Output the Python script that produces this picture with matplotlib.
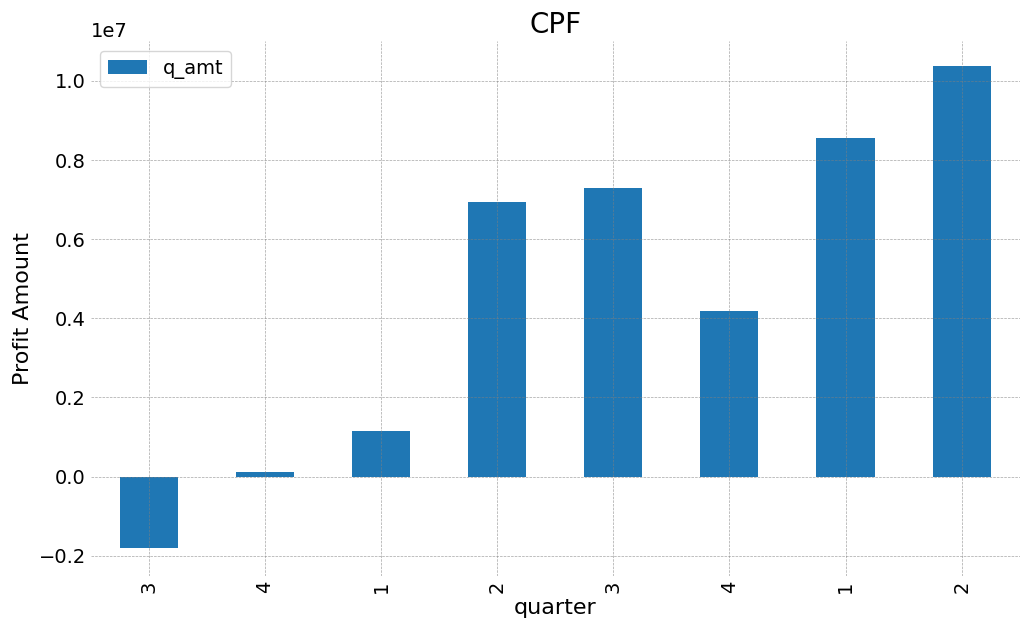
import matplotlib
matplotlib.use("Agg")
import matplotlib.pyplot as plt
import numpy as np

quarters = ["3", "4", "1", "2", "3", "4", "1", "2"]
q_amt = [-1.8e6, 0.13e6, 1.15e6, 6.93e6, 7.3e6, 4.18e6, 8.55e6, 10.37e6]

fig, ax = plt.subplots(figsize=(10.3, 6.36), dpi=100)
fig.subplots_adjust(left=0.088, right=0.99, top=0.935, bottom=0.095)
x = np.arange(len(quarters))
ax.bar(x, q_amt, width=0.5, color="#1f77b4", label="q_amt", zorder=1)
ax.set_xticks(x)
ax.set_xticklabels(quarters, rotation=90)
ax.set_xlim(-0.5, len(quarters) - 0.5)
ax.set_ylim(-0.25e7, 1.1e7)
ax.grid(True, linestyle="--", linewidth=0.5, color="gray", alpha=0.7, zorder=2)
ax.set_axisbelow(False)
for s in ax.spines.values():
    s.set_visible(False)
ax.tick_params(axis="both", length=0, labelsize=14)
ax.yaxis.get_offset_text().set_fontsize(14)
ax.set_title("CPF", fontsize=20)
ax.set_xlabel("quarter", fontsize=16)
ax.set_ylabel("Profit Amount", fontsize=16)
ax.legend(loc="upper left", fontsize=14)
fig.savefig("out.png")
